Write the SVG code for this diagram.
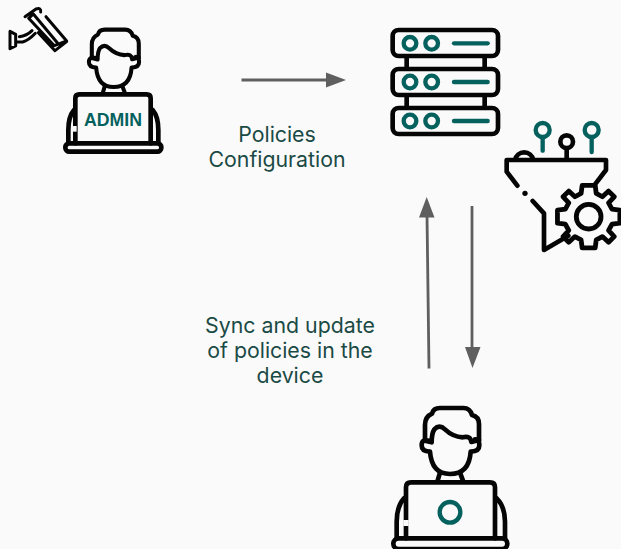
<svg xmlns="http://www.w3.org/2000/svg" width="621" height="549" viewBox="0 0 621 549">
<style>
.k{fill:none;stroke:#050505;stroke-width:14;stroke-linecap:round;stroke-linejoin:round}
.m{fill:none;stroke:#050505;stroke-width:9;stroke-linecap:round;stroke-linejoin:round}
.t{fill:none;stroke:#05615e;stroke-width:13;stroke-linecap:round}
.c{fill:none;stroke:#5f5f5f;stroke-width:2.8}
.h{fill:#5f5f5f}
.l{font-family:Inter,"Liberation Sans",sans-serif;font-size:21.300px;fill:#1a4a45;text-anchor:middle}
</style>
<defs>
<g id="head">
<path class="k" d="M135 122V75Q135 50 156 41Q160 24 180 24H250Q270 24 276 45Q297 50 297 72V122"/>
<path class="k" d="M135 122L155 127Q155 100 163 88Q178 72 195 88Q218 110 248 112Q272 106 274 126L297 120"/>
<path class="k" d="M148 122Q125 116 125 136Q125 155 150 155Q155 222 210 222Q268 222 272 155Q298 155 298 136Q298 116 285 118"/>
<path class="k" d="M180 218L172 245M240 218L250 245"/>
</g>
</defs>
<rect width="621" height="549" fill="#fafafa"/>
<g id="connectors">
<path class="c" d="M241.500 80H328"/>
<path class="h" d="M326 72.500L346 80L326 87.500Z"/>
<path class="c" d="M429 368.500L427 215"/>
<path class="h" d="M419 217.500L426.700 197L434.500 217.500Z"/>
<path class="c" d="M472 206V349"/>
<path class="h" d="M465 347H480.500L472.500 368Z"/>
</g>
<g id="camera" transform="scale(.33333)">
<path class="m" d="M75 50L108 27Q124 22 122 36M86 55L163 137L200 123L138 50M86 55L100 42L172 128M115 98L165 152L200 125"/>
<path class="m" d="M30 94V146L47 138V103ZM50 126H68Q85 122 106 100M58 110Q80 108 96 92"/>
</g>
<g id="admin">
<g transform="scale(.33333)">
<g transform="translate(158 68) scale(.87)"><use href="#head"/></g>
<path class="k" d="M226 430V295Q226 283 238 283H440Q452 283 452 295V430"/>
<path class="k" d="M222 330Q205 350 205 390V428M458 330Q475 350 475 390V428"/>
<rect class="k" x="196" y="430" width="288" height="25" rx="12"/>
<rect x="216" y="378" width="14" height="17" fill="#fafafa"/>
</g>
<text x="113" y="126" font-family="'Liberation Sans',Arial,sans-serif" font-weight="700" font-size="17.700" fill="#05615e" text-anchor="middle">ADMIN</text>
</g>
<g id="server" transform="translate(380 20) scale(.33333)">
<rect class="k" x="38" y="30" width="316" height="78" rx="18"/>
<rect class="k" x="38" y="147" width="316" height="78" rx="18"/>
<rect class="k" x="38" y="264" width="316" height="78" rx="18"/>
<path class="k" d="M80 110V145M314 110V145M80 227V262M314 227V262"/>
<g class="t">
<circle cx="90" cy="70" r="19"/><circle cx="155" cy="70" r="19"/><path d="M222 70H323"/>
<circle cx="90" cy="186" r="19"/><circle cx="155" cy="186" r="19"/><path d="M222 186H323"/>
<circle cx="90" cy="303" r="19"/><circle cx="155" cy="303" r="19"/><path d="M222 303H323"/>
</g>
</g>
<g id="filter" transform="translate(500 115) scale(.33333)">
<g class="t"><circle cx="128" cy="45" r="21"/><path d="M128 68V107"/><circle cx="275" cy="45" r="21"/><path d="M275 68V111"/></g>
<circle class="k" cx="200" cy="80" r="19"/>
<path class="k" d="M200 100V135M45 135A28 28 0 0 1 100 135M20 135H318V165L285 208M20 135V170L52 212M98 258L132 295V405L205 362"/>
<circle cx="75" cy="235" r="8" fill="#050505"/>
<g transform="translate(266 305) scale(1.03)"><path class="k" d="M67.900-22L90.900-19V19L67.900 22L58 40L74.500 58L58 74.500L40 58L22 67.900L19 90.900H-19L-22 67.900L-40 58L-58 74.500L-74.500 58L-58 40L-67.900 22L-90.900 19V-19L-67.900-22L-58-40L-74.500-58L-58-74.500L-40-58L-22-67.900L-19-90.900H19L22-67.900L40-58L58-74.500L74.500-58L58-40Z"/><circle class="k" r="36"/></g>
</g>
<g id="user" transform="translate(380 400) scale(.33333)">
<use href="#head"/>
<path class="k" d="M78 415V262Q78 247 93 247H330Q345 247 345 262V415"/>
<path class="k" d="M72 295Q50 320 50 365V415M350 295Q375 320 375 365V415"/>
<rect class="k" x="40" y="415" width="342" height="32" rx="16"/>
<rect x="70" y="360" width="16" height="18" fill="#fafafa"/>
<circle class="t" cx="210" cy="337" r="31"/>
</g>
<g id="labels">
<text class="l" x="277" y="142">Policies</text>
<text class="l" x="277" y="167">Configuration</text>
<text class="l" x="290" y="332.500">Sync and update</text>
<text class="l" x="290" y="358">of policies in the</text>
<text class="l" x="290" y="382.500">device</text>
</g>
</svg>
